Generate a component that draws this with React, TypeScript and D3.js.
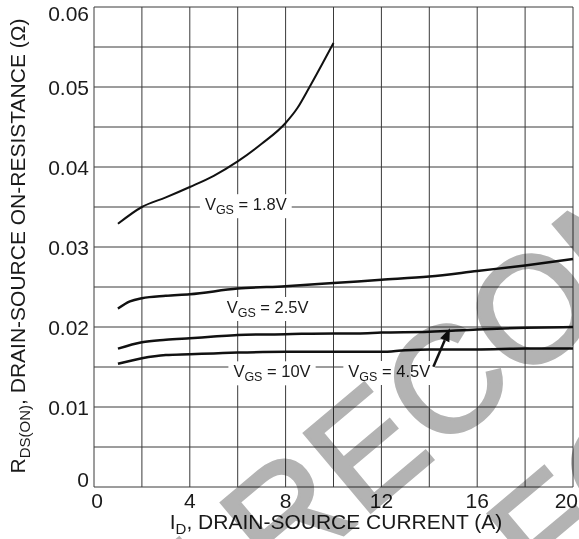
import React, { useEffect, useRef } from "react";
import * as d3 from "d3";

const W = 579;
const H = 539;

// Axis ticks / grid
const xTickValues = [0, 4, 8, 12, 16, 20];
const xGridValues = [0, 2, 4, 6, 8, 10, 12, 14, 16, 18, 20];
const yTickValues = [0, 0.01, 0.02, 0.03, 0.04, 0.05, 0.06];
const yTickLabels = ["0", "0.01", "0.02", "0.03", "0.04", "0.05", "0.06"];
const yGridValues = [0, 0.005, 0.01, 0.015, 0.02, 0.025, 0.03, 0.035, 0.04, 0.045, 0.05, 0.055, 0.06];

// Series: V_GS = 1.8V
const id18 = [1, 2, 3, 4, 5, 6, 7, 8, 8.5, 9, 10];
const r18 = [0.0329, 0.035, 0.0362, 0.0375, 0.0389, 0.0407, 0.0429, 0.0455, 0.0474, 0.05, 0.0555];
// V_GS = 2.5V
const id25 = [1, 1.5, 2, 3, 4, 6, 8, 10, 12, 14, 16, 18, 20];
const r25 = [0.0223, 0.0232, 0.0236, 0.0239, 0.0241, 0.0248, 0.0251, 0.0255, 0.0259, 0.0263, 0.027, 0.0277, 0.0285];
// V_GS = 4.5V
const id45 = [1, 2, 3, 4, 5, 6, 8, 10, 11, 12, 14, 16, 18, 20];
const r45 = [0.0173, 0.0181, 0.0184, 0.0186, 0.0188, 0.019, 0.0191, 0.0192, 0.0192, 0.0193, 0.0194, 0.0197, 0.0199, 0.02];
// V_GS = 10V
const id10 = [1, 2, 3, 4, 5, 6, 8, 10, 12, 13, 14, 16, 18, 20];
const r10 = [0.0154, 0.0161, 0.0165, 0.0166, 0.0167, 0.0168, 0.0169, 0.0169, 0.0169, 0.0171, 0.0172, 0.0172, 0.0173, 0.0173];

// Curve labels (text start x in A, baseline in ohm)
const labelValues = ["1.8V", "2.5V", "10V", "4.5V"];
const labelX = [4.63, 5.54, 5.82, 10.62];
const labelY = [0.0346, 0.02175, 0.01371, 0.01375];

// Arrow for 4.5V label
const arrowFrom = [14.17, 0.01504];
const arrowTo = [14.86, 0.01984];

const FONT = "'Liberation Sans', Arial, Helvetica, sans-serif";

export default function App() {
  const ref = useRef<SVGSVGElement | null>(null);

  useEffect(() => {
    const svg = d3.select(ref.current);
    svg.selectAll("*").remove();

    const x = d3.scaleLinear().domain([0, 20]).range([94, 573]);
    const y = d3.scaleLinear().domain([0, 0.06]).range([487, 7]);

    svg.append("rect").attr("width", W).attr("height", H).attr("fill", "#fff");

    const grid = svg.append("g").attr("stroke", "#3a3a3a").attr("stroke-width", 1).attr("fill", "none");
    grid.selectAll("line.v").data(xGridValues).join("line")
      .attr("x1", (d) => x(d)).attr("x2", (d) => x(d))
      .attr("y1", y(0)).attr("y2", y(0.06));
    grid.selectAll("line.h").data(yGridValues).join("line")
      .attr("class", "h")
      .attr("x1", x(0)).attr("x2", x(20))
      .attr("y1", (d) => y(d)).attr("y2", (d) => y(d));

    // Curve labels with white backgrounds
    const lblG = svg.append("g");
    labelValues.forEach((v, i) => {
      const g = lblG.append("g");
      const bg = g.append("rect").attr("fill", "#fff");
      const t = g.append("text")
        .attr("x", x(labelX[i])).attr("y", y(labelY[i]))
        .attr("font-family", FONT).attr("font-size", 16.5).attr("fill", "#1a1a1a");
      t.append("tspan").text("V");
      t.append("tspan").attr("font-size", 12.5).attr("dy", 4).text("GS");
      t.append("tspan").attr("dy", -4).text(" = " + v);
      const bb = (t.node() as SVGTextElement).getBBox();
      bg.attr("x", bb.x - 5).attr("y", bb.y - 1).attr("width", bb.width + 10).attr("height", bb.height + 2);
    });

    // Arrow
    const ax1 = x(arrowFrom[0]), ay1 = y(arrowFrom[1]);
    const ax2 = x(arrowTo[0]), ay2 = y(arrowTo[1]);
    const ang = Math.atan2(ay2 - ay1, ax2 - ax1);
    const L = 13, hw = 5;
    const bx = ax2 - L * Math.cos(ang), by = ay2 - L * Math.sin(ang);
    svg.append("line")
      .attr("x1", ax1).attr("y1", ay1).attr("x2", bx).attr("y2", by)
      .attr("stroke", "#111").attr("stroke-width", 2.5);
    svg.append("polygon")
      .attr("points", [
        [ax2, ay2],
        [bx + hw * Math.sin(ang), by - hw * Math.cos(ang)],
        [bx - hw * Math.sin(ang), by + hw * Math.cos(ang)],
      ].map((p) => p.join(",")).join(" "))
      .attr("fill", "#111");

    // Curves
    const line = d3.line<[number, number]>()
      .x((d) => x(d[0])).y((d) => y(d[1]))
      .curve(d3.curveMonotoneX);
    const series: [number[], number[], number][] = [
      [id18, r18, 2],
      [id25, r25, 2.5],
      [id45, r45, 2.5],
      [id10, r10, 2.5],
    ];
    series.forEach(([xs, ys, sw]) => {
      const pts = xs.map((v, i) => [v, ys[i]] as [number, number]);
      svg.append("path").attr("d", line(pts) as string)
        .attr("fill", "none").attr("stroke", "#111").attr("stroke-width", sw)
        .attr("stroke-linejoin", "round");
    });

    // Tick labels
    const tl = svg.append("g").attr("font-family", FONT).attr("font-size", 21).attr("fill", "#1a1a1a");
    xTickValues.forEach((v, i) => {
      const last = i === xTickValues.length - 1;
      tl.append("text")
        .attr("x", last ? 578 : x(v) + (i === 0 ? 3 : 0))
        .attr("y", 508)
        .attr("text-anchor", last ? "end" : "middle")
        .text(String(v));
    });
    yTickValues.forEach((v, i) => {
      let cy = y(v);
      if (i === 0) cy -= 7.5;
      if (i === yTickValues.length - 1) cy += 6.5;
      tl.append("text")
        .attr("x", 89).attr("y", cy + 7.5)
        .attr("text-anchor", "end")
        .text(yTickLabels[i]);
    });

    // Axis titles
    const xt = svg.append("text")
      .attr("x", 336).attr("y", 529).attr("text-anchor", "middle")
      .attr("font-family", FONT).attr("font-size", 21).attr("fill", "#1a1a1a");
    xt.append("tspan").text("I");
    xt.append("tspan").attr("font-size", 15).attr("dy", 5).text("D");
    xt.append("tspan").attr("dy", -5).text(", DRAIN-SOURCE CURRENT (A)");

    const yt = svg.append("text")
      .attr("transform", "translate(25,246) rotate(-90)")
      .attr("text-anchor", "middle")
      .attr("font-family", FONT).attr("font-size", 21).attr("fill", "#1a1a1a");
    yt.append("tspan").text("R");
    yt.append("tspan").attr("font-size", 15).attr("dy", 5).text("DS(ON)");
    yt.append("tspan").attr("dy", -5).text(", DRAIN-SOURCE ON-RESISTANCE (\u03A9)");

    // Watermark
    const wm = svg.append("g")
      .attr("transform", "translate(280,588) rotate(-40)")
      .style("mix-blend-mode", "multiply")
      .attr("font-family", FONT).attr("font-size", 150)
      .attr("fill", "#b3b3b3").attr("stroke", "#b3b3b3").attr("stroke-width", 3)
      .attr("stroke-linejoin", "miter");
    wm.append("text").attr("x", -358).attr("y", 0).text("NOT RECOMMENDED");
    wm.append("text").attr("x", 195).attr("y", 180).text("FOR NEW DESIGN");
  }, []);

  return (
    <svg
      ref={ref}
      width={W}
      height={H}
      viewBox={`0 0 ${W} ${H}`}
      style={{ position: "absolute", left: 0, top: 0, display: "block" }}
    />
  );
}
